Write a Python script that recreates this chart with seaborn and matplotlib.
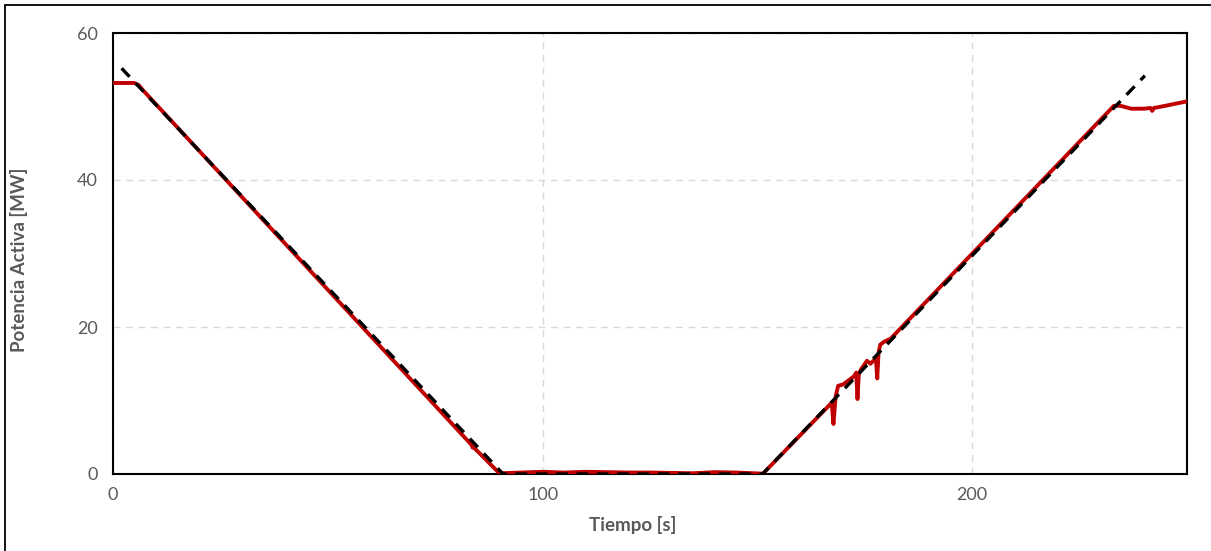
import matplotlib
matplotlib.use("Agg")
import matplotlib.pyplot as plt
import matplotlib.patches as mpatches
import seaborn as sns
import pandas as pd

# Measured active power (red trace)
t_measured = [0, 5.0, 6.0, 7.0, 83.4, 83.7, 84.0, 89.6, 90.3, 95, 100, 105, 110, 115, 120,
              125, 130, 135, 140, 145, 149, 151.3, 167.3, 167.7, 168.2, 168.8, 170.0,
              172.5, 173.0, 173.3, 173.6, 174.2, 175.5, 176.3, 177.0, 177.6, 177.9,
              178.2, 178.6, 179.5, 181.0, 233.0, 234.5, 237.0, 240.0, 241.5, 241.9,
              242.3, 245.0, 250.0]
p_measured = [53.2, 53.2, 52.9, 52.2, 4.0, 3.6, 3.6, 0.3, 0.1, 0.2, 0.3, 0.2, 0.3, 0.25,
              0.2, 0.2, 0.15, 0.1, 0.25, 0.2, 0.1, 0.05, 9.7, 6.8, 10.5, 12.0, 12.2,
              13.3, 13.8, 10.2, 13.6, 14.3, 15.4, 15.0, 15.4, 15.6, 13.0,
              16.5, 17.6, 18.0, 18.4, 50.1, 50.1, 49.7, 49.7, 49.8, 49.4,
              49.8, 50.1, 50.7]

# Reference set-point ramp (dashed black)
t_reference = [2.0, 90.8, 151.2, 240.2]
p_reference = [55.2, 0.0, 0.0, 54.2]

x_ticks = [0, 100, 200]
y_ticks = [0, 20, 40, 60]

measured = pd.DataFrame({"Tiempo": t_measured, "Potencia": p_measured})
reference = pd.DataFrame({"Tiempo": t_reference, "Potencia": p_reference})

sns.set_theme(style="white")
plt.rcParams["font.family"] = ["Lato", "DejaVu Sans"]

fig = plt.figure(figsize=(12.11, 5.51), dpi=100)
ax = fig.add_axes([113 / 1211, 1 - 474 / 551, (1187 - 113) / 1211, (474 - 33) / 551])

grey_text = "#595959"

sns.lineplot(data=measured, x="Tiempo", y="Potencia", ax=ax, color="#C00000",
             linewidth=2.8, zorder=3, sort=False)
sns.lineplot(data=reference, x="Tiempo", y="Potencia", ax=ax, color="black",
             linewidth=2.4, linestyle=(0, (3.5, 2.6)), zorder=4, sort=False)

ax.set_xlim(0, 250)
ax.set_ylim(0, 60)
ax.set_xticks(x_ticks)
ax.set_yticks(y_ticks)
ax.grid(True, color="#D9D9D9", linestyle=(0, (5, 4)), linewidth=1.0)
ax.set_axisbelow(True)

for side in ["left", "right", "top", "bottom"]:
    ax.spines[side].set_visible(True)
    ax.spines[side].set_color("black")
    ax.spines[side].set_linewidth(1.5)

ax.tick_params(axis="both", length=0, labelsize=13, colors=grey_text)
ax.tick_params(axis="x", pad=9)
ax.tick_params(axis="y", pad=11)

ax.set_xlabel("Tiempo [s]", fontsize=13.5, fontweight="bold", color=grey_text)
ax.set_ylabel("Potencia Activa [MW]", fontsize=13.5, fontweight="bold", color=grey_text)
ax.xaxis.set_label_coords(0.484, -0.095)
ax.yaxis.set_label_coords(-0.079, 0.485)

# Outer chart frame
frame = mpatches.Rectangle((5 / 1211, -0.1), 1.2, 1 - 5 / 551 + 0.1,
                           transform=fig.transFigure, fill=False,
                           edgecolor="black", linewidth=1.3)
fig.patches.append(frame)

fig.savefig("out.png", dpi=100)
